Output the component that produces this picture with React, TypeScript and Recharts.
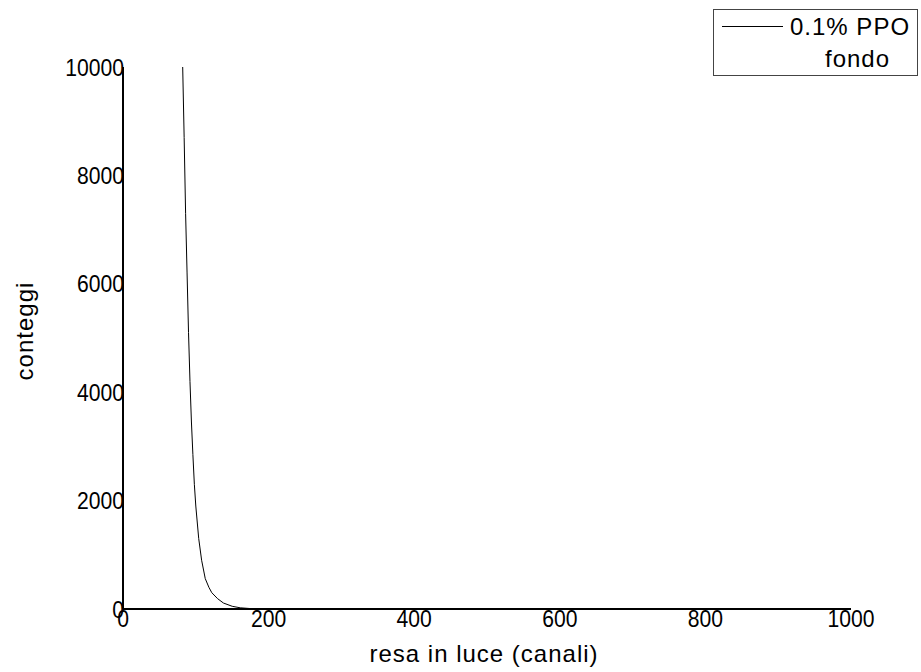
import { LineChart, Line, XAxis, YAxis, Label } from 'recharts';

const channels = [82, 84, 86, 88, 90, 92, 94, 96, 98, 100, 104, 108, 113, 118, 122, 130, 138, 150, 161, 175, 190, 200, 250, 300, 400, 500, 600, 700, 800, 900, 1000];
const counts = [10000, 8700, 7300, 6200, 5100, 4200, 3450, 2850, 2300, 1900, 1300, 900, 560, 400, 300, 190, 110, 50, 22, 8, 3, 1, 0, 0, 0, 0, 0, 0, 0, 0, 0];
const xTicks = [0, 200, 400, 600, 800, 1000];
const yTicks = [0, 2000, 4000, 6000, 8000, 10000];

const seriesName = '0.1% PPO';
const seriesName2 = 'fondo';
const xTitle = 'resa in luce (canali)';
const yTitle = 'conteggi';

const data = channels.map((c, i) => ({ x: c, y: counts[i] }));

const font = '"Liberation Sans", Arial, sans-serif';

// tick digits in the original look a bit narrow, so squeeze them sideways
const YTick = ({ x, y, payload }: any) => (
  <text transform={`translate(${x + 1},${y}) scale(0.88,1)`} x={0} y={8.5} textAnchor="end" fontSize={24} fontFamily={font} fill="#000">
    {payload.value}
  </text>
);

const XTick = ({ x, y, payload }: any) => (
  <text transform={`translate(${x},${y}) scale(0.88,1)`} x={0} y={18} textAnchor="middle" fontSize={24} fontFamily={font} fill="#000">
    {payload.value}
  </text>
);

export default function App() {
  return (
    <div style={{ position: 'absolute', left: 0, top: 0, width: 921, height: 672, background: '#fff' }}>
      <LineChart width={921} height={672} data={data} margin={{ top: 67, right: 70, bottom: 0, left: 0 }}>
        <XAxis
          dataKey="x"
          type="number"
          domain={[0, 1000]}
          ticks={xTicks}
          height={63}
          tickSize={0}
          tickMargin={0}
          axisLine={{ stroke: '#000', strokeWidth: 2 }}
          tick={<XTick />}
          interval={0}
        >
          <Label
            content={({ viewBox }: any) => (
              <text x={viewBox.x + viewBox.width / 2 - 3} y={662} textAnchor="middle" fontSize={24} letterSpacing={1} fontFamily={font} fill="#000">
                {xTitle}
              </text>
            )}
          />
        </XAxis>
        <YAxis
          type="number"
          domain={[0, 10000]}
          ticks={yTicks}
          width={123}
          tickSize={0}
          tickMargin={0}
          axisLine={{ stroke: '#000', strokeWidth: 2 }}
          tick={<YTick />}
          interval={0}
          allowDataOverflow
        >
          <Label
            content={() => (
              <text x={33} y={331} transform="rotate(-90 33 331)" textAnchor="middle" fontSize={24} letterSpacing={1} fontFamily={font} fill="#000">
                {yTitle}
              </text>
            )}
          />
        </YAxis>
        <Line type="linear" dataKey="y" stroke="#000" strokeWidth={1} dot={false} isAnimationActive={false} />
      </LineChart>
      <svg width={921} height={90} style={{ position: 'absolute', left: 0, top: 0 }}>
        <rect x={713.5} y={9.5} width={204} height={66} fill="#fff" stroke="#444" strokeWidth={1} />
        <line x1={722} x2={783} y1={26.5} y2={26.5} stroke="#000" strokeWidth={1} />
        <text x={790} y={35} fontSize={24} letterSpacing={1} fontFamily={font} fill="#000">{seriesName}</text>
        <text x={825} y={67} fontSize={24} letterSpacing={1} fontFamily={font} fill="#000">{seriesName2}</text>
      </svg>
    </div>
  );
}
